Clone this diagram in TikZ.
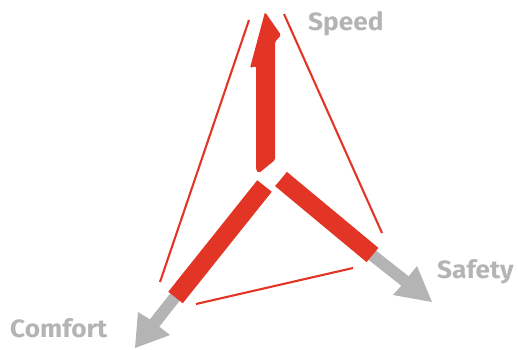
\documentclass[tikz,border=0pt]{standalone}
\usepackage{fontspec}
\setmainfont{Fira Sans}
\newfontfamily\lblfont[FakeStretch=1.05]{Fira Sans}
\begin{document}
\begin{tikzpicture}[x=1pt,y=-1pt,
  redc/.style={fill=myred},
  grayc/.style={fill=mygray},
  thin/.style={draw=myred,line width=2.1pt},
  bar/.style={draw=myred,line width=18.5pt,line cap=butt},
  lbl/.style={text=mygray,font=\lblfont\fontsize{25}{25}\selectfont\bfseries,inner sep=0pt}]
\definecolor{myred}{HTML}{E33526}
\definecolor{mygray}{HTML}{B3B4B3}
\useasboundingbox (0,0) rectangle (518,349);
% thin triangle lines
\coordinate (l1a) at (249,20); \coordinate (l1b) at (160,282);
\coordinate (l2a) at (284,14); \coordinate (l2b) at (382,233);
\coordinate (l3a) at (196,304); \coordinate (l3b) at (353,268);
\draw[thin] (l1a) -- (l1b);
\draw[thin] (l2a) -- (l2b);
\draw[thin] (l3a) -- (l3b);
% gray arrows
\fill[grayc] (170.3,293.3) -- (149.9,319.3) -- (138,312) -- (135,348) -- (170,335) -- (159.3,326.7) -- (179.7,300.7) -- cycle;
\fill[grayc] (375.7,250.3) -- (408.7,276.3) -- (417,266) -- (432,302) -- (393,295) -- (401.3,285.7) -- (368.3,259.7) -- cycle;
% red bars
\coordinate (ca) at (264.5,186); \coordinate (cb) at (175.5,297.5);
\coordinate (sa) at (281,179); \coordinate (sb) at (372.5,255);
\draw[bar] (ca) -- (cb);
\draw[bar] (sa) -- (sb);
% vertical arrow
\fill[redc,rounded corners=1.5pt] (265,12) -- (281,35) -- (275,42) -- (275,160) -- (259,173) -- (256,170) -- (256,66) -- (250,68) -- cycle;
% labels
\node[lbl,anchor=base west] (speed) at (308,30) {Speed};
\node[lbl,anchor=base west] (safety) at (437,278) {Safety};
\node[lbl,anchor=base west] (comfort) at (10,337) {Comfort};
\end{tikzpicture}
\end{document}
